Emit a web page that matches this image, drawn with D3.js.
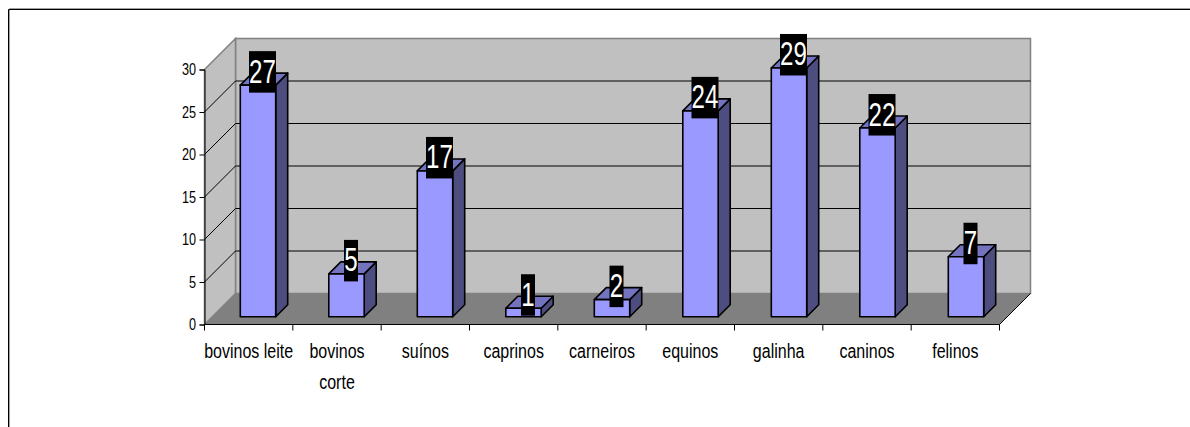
<!DOCTYPE html>
<html><head><meta charset="utf-8">
<script src="https://cdn.jsdelivr.net/npm/d3@7/dist/d3.min.js"></script>
<style>html,body{margin:0;padding:0;background:#fff;overflow:hidden}svg{display:block}</style>
</head><body><svg id="c" width="1190" height="427"></svg>
<script>
const categories = ["bovinos leite","bovinos corte","suínos","caprinos","carneiros","equinos","galinha","caninos","felinos"];
const values = [27,5,17,1,2,24,29,22,7];
const yTicks = [0,5,10,15,20,25,30];
const wrappedLabels = {"bovinos corte":["bovinos","corte"]};

const svg = d3.select("#c");
const FONT = "'Liberation Sans',Arial,sans-serif";
const depth = 31, barDepth = 12;
const x = d3.scaleBand().domain(categories).range([204.5, 999.5]);
const y = d3.scaleLinear().domain([0,30]).range([324.5, 69.5]);
// Bars sit part-way into the 3D depth, so they have their own slightly larger projection
const xBar = d3.scaleBand().domain(categories).range([213.75, 1010.25]);
const yBar = d3.scaleLinear().domain([0,30]).range([316.8, 59.4]);
const barW = xBar.bandwidth() * 0.4;
const pts = a => a.map(p => p.join(",")).join(" ");

// Chart frame: open on the right and bottom
svg.append("path").attr("d","M9.5,427V8.5H1190").attr("fill","none").attr("stroke","#a0a0a0");
svg.append("path").attr("d","M8.5,427V9.5H1190").attr("fill","none").attr("stroke","#000");

// Back wall, side wall, floor
const [L,R] = x.range(), y0 = y(0), yT = y(30);
svg.append("polygon").attr("points",pts([[L+depth,yT-depth],[R+depth,yT-depth],[R+depth,y0-depth],[L+depth,y0-depth]]))
  .attr("fill","#c0c0c0").attr("stroke","#808080").attr("stroke-width",1.5);
svg.append("polygon").attr("points",pts([[L,yT],[L+depth,yT-depth],[L+depth,y0-depth],[L,y0]]))
  .attr("fill","#c0c0c0").attr("stroke","#808080").attr("stroke-width",1.5);
svg.append("polygon").attr("points",pts([[L,y0],[L+depth,y0-depth],[R+depth,y0-depth],[R,y0]]))
  .attr("fill","#808080");

// Gridlines
yTicks.filter(t => t>0 && t<30).forEach(t => {
  svg.append("path").attr("fill","none").attr("stroke","#000").attr("stroke-width",1)
    .attr("d",`M${L},${y(t)}L${L+depth},${y(t)-depth}H${R+depth}`);
});

// Axes
const tickScale = 0.79;
const axisL = d3.axisLeft(y).tickValues(yTicks).tickSize(5).tickPadding(3);
const gy = svg.append("g").attr("transform",`translate(${L},0)`).call(axisL);
gy.select(".domain").attr("stroke","#000");
gy.selectAll("text").attr("font-family",FONT).attr("font-size",16).attr("fill","#000")
  .attr("x",-8.5/tickScale).attr("transform",`scale(${tickScale},1)`);

const edges = categories.map(c => x(c)).concat([R]);
svg.append("line").attr("x1",L).attr("x2",R).attr("y1",y0).attr("y2",y0).attr("stroke","#000").attr("stroke-width",1.2);
svg.append("line").attr("x1",R).attr("x2",R+depth).attr("y1",y0).attr("y2",y0-depth).attr("stroke","#000");
svg.selectAll(".xt").data(edges).join("line").attr("class","xt")
  .attr("x1",d=>d).attr("x2",d=>d).attr("y1",y0).attr("y2",y0+6).attr("stroke","#000");

categories.forEach(c => {
  const cx = x(c)+x.bandwidth()/2;
  (wrappedLabels[c]||[c]).forEach((s,i) => {
    svg.append("text").attr("class","xl")
      .attr("transform",`translate(${cx},${358+i*31}) scale(0.8,1)`)
      .attr("text-anchor","middle").attr("font-family",FONT).attr("font-size",20).attr("fill","#000").text(s);
  });
});

// Bars
const rows = categories.map((c,i)=>({c,v:values[i]}));
const g = svg.selectAll(".bar").data(rows).join("g").attr("class","bar")
  .attr("stroke","#000").attr("stroke-width",1.6).attr("stroke-linejoin","round");
const bx = d => xBar(d.c)+xBar.bandwidth()/2 - barW/2;
const by = yBar;
g.append("polygon").attr("points",d=>pts([[bx(d)+barW,by(d.v)],[bx(d)+barW+barDepth,by(d.v)-barDepth],[bx(d)+barW+barDepth,by(0)-barDepth],[bx(d)+barW,by(0)]])).attr("fill","#4d4d80");
g.append("polygon").attr("points",d=>pts([[bx(d),by(d.v)],[bx(d)+barDepth,by(d.v)-barDepth],[bx(d)+barW+barDepth,by(d.v)-barDepth],[bx(d)+barW,by(d.v)]])).attr("fill","#7373bf");
g.append("rect").attr("x",bx).attr("y",d=>by(d.v)).attr("width",barW).attr("height",d=>by(0)-by(d.v)).attr("fill","#9999ff");

// Value labels
const boxW = d => String(d.v).length===1 ? 14 : 27;
const lx = d => bx(d)+barW/2+4.5;
const vl = svg.selectAll(".vl").data(rows).join("g").attr("class","vl");
vl.append("rect").attr("x",d=>lx(d)-boxW(d)/2).attr("y",d=>by(d.v)-34)
  .attr("width",boxW).attr("height",41.5).attr("fill","#000");
vl.append("text").attr("transform",d=>`translate(${lx(d)},${by(d.v)-2.5}) scale(0.73,1)`).attr("text-anchor","middle")
  .attr("font-family",FONT).attr("font-size",33).attr("fill","#fff").text(d=>d.v);
</script></body></html>
